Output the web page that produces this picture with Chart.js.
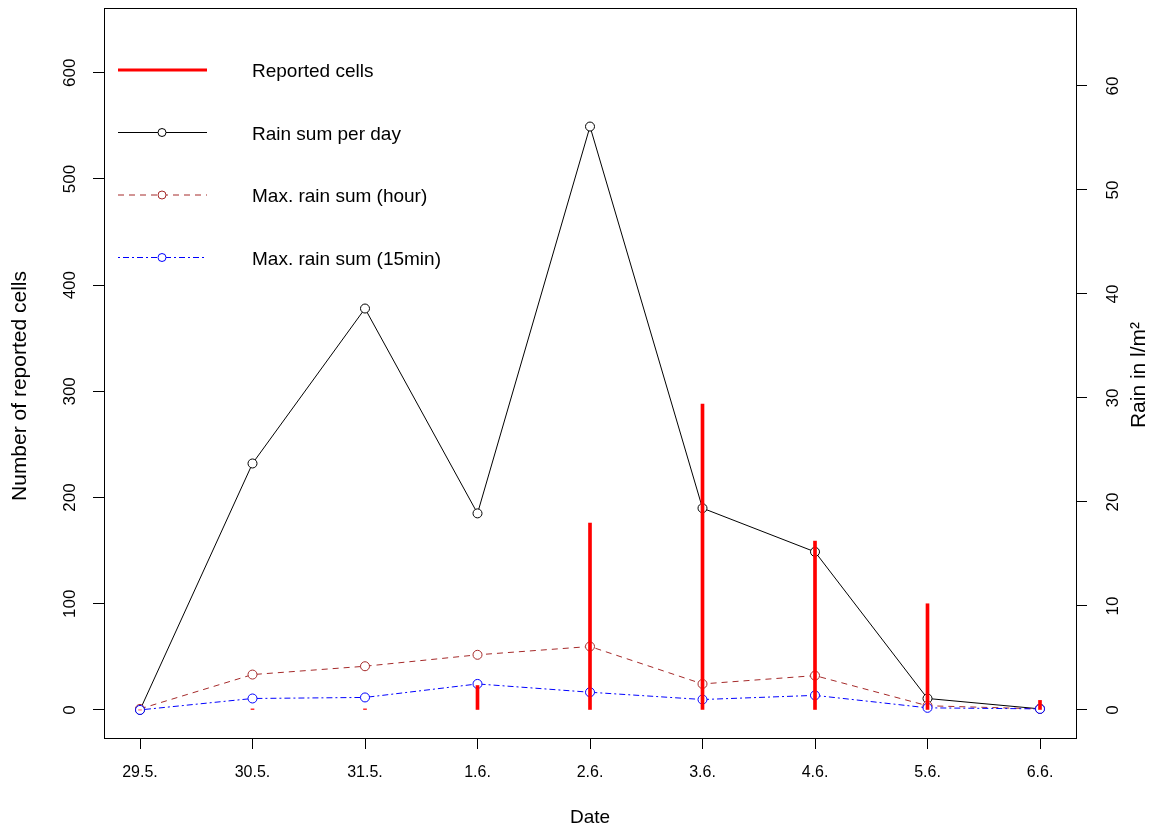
<!DOCTYPE html>
<html>
<head>
<meta charset="utf-8">
<script src="https://cdn.jsdelivr.net/npm/chart.js@4"></script>
<style>
  body { margin: 0; background: #fff; }
  #wrap { width: 1158px; height: 833px; }
</style>
</head>
<body>
<div id="wrap"><canvas id="chart1"></canvas></div>
<script>
const dates = ['29.5.', '30.5.', '31.5.', '1.6.', '2.6.', '3.6.', '4.6.', '5.6.', '6.6.'];
const reportedCells = [0, 1, 1, 23, 176, 288, 159, 100, 9];
const rainDay = [0, 23.7, 38.6, 18.9, 56.1, 19.4, 15.2, 1.1, 0.1];
const rainHour = [0.1, 3.4, 4.2, 5.3, 6.1, 2.5, 3.3, 0.4, 0.1];
const rain15 = [0, 1.1, 1.2, 2.5, 1.7, 1.0, 1.4, 0.2, 0.1];
const cellTicks = [0, 100, 200, 300, 400, 500, 600];
const rainTicks = [0, 10, 20, 30, 40, 50, 60];

const FONT = "'Liberation Sans', Arial, sans-serif";

function toPoints(arr) {
  return arr.map((v, i) => ({ x: i + 1, y: v }));
}

const legendRows = [
  { label: 'Reported cells', color: '#ff0000', width: 3, dash: [], marker: false },
  { label: 'Rain sum per day', color: '#000000', width: 1, dash: [], marker: true },
  { label: 'Max. rain sum (hour)', color: '#A52A2A', width: 1, dash: [6, 5], marker: true },
  { label: 'Max. rain sum (15min)', color: '#0000ff', width: 1, dash: [2, 3, 6, 3], marker: true }
];

// box, rotated y labels and legend like R base graphics
const rPlot = {
  id: 'rPlot',
  afterDraw(chart) {
    const c = chart.ctx;
    const a = chart.chartArea;
    const yl = chart.scales.y;
    const yr = chart.scales.y1;
    c.save();
    c.strokeStyle = '#000';
    c.lineWidth = 1;
    c.strokeRect(Math.round(a.left) + 0.5, Math.round(a.top) + 0.5,
      Math.round(a.right - a.left), Math.round(a.bottom - a.top));

    c.fillStyle = '#000';
    c.textAlign = 'center';
    c.textBaseline = 'middle';
    c.font = '17px ' + FONT;
    cellTicks.forEach(v => {
      c.save();
      c.translate(70, yl.getPixelForValue(v));
      c.rotate(-Math.PI / 2);
      c.fillText(String(v), 0, 0);
      c.restore();
    });
    rainTicks.forEach(v => {
      c.save();
      c.translate(1113, yr.getPixelForValue(v));
      c.rotate(-Math.PI / 2);
      c.fillText(String(v), 0, 0);
      c.restore();
    });

    c.font = '21px ' + FONT;
    c.save();
    c.translate(20, 386);
    c.rotate(-Math.PI / 2);
    c.fillText('Number of reported cells', 0, 0);
    c.restore();
    c.save();
    c.translate(1139, 375);
    c.rotate(-Math.PI / 2);
    c.fillText('Rain in l/m²', 0, 0);
    c.restore();

    // legend
    c.textAlign = 'left';
    c.font = '19px ' + FONT;
    legendRows.forEach((r, i) => {
      const y = 70 + i * 62.5;
      c.strokeStyle = r.color;
      c.lineWidth = r.width;
      c.setLineDash(r.dash);
      c.beginPath();
      c.moveTo(118, y);
      c.lineTo(207, y);
      c.stroke();
      c.setLineDash([]);
      if (r.marker) {
        c.fillStyle = '#fff';
        c.beginPath();
        c.arc(162, y, 4, 0, Math.PI * 2);
        c.fill();
        c.stroke();
      }
      c.fillStyle = '#000';
      c.fillText(r.label, 252, y + 2);
    });
    c.restore();
  }
};

function lineSet(label, data, color, dash, order) {
  return {
    type: 'line',
    label: label,
    data: toPoints(data),
    yAxisID: 'y1',
    borderColor: color,
    borderWidth: 1,
    borderDash: dash,
    pointRadius: 4.5,
    pointBorderWidth: 1,
    pointBorderColor: color,
    pointBackgroundColor: '#fff',
    tension: 0,
    order: order
  };
}

const ctx1 = document.getElementById('chart1');

new Chart(ctx1, {
  type: 'line',
  data: {
    datasets: [
      {
        type: 'bar',
        label: 'Reported cells',
        data: toPoints(reportedCells),
        yAxisID: 'y',
        backgroundColor: '#ff0000',
        barThickness: 3,
        order: 0
      },
      lineSet('Max. rain sum (15min)', rain15, '#0000ff', [2, 3, 6, 3], 1),
      lineSet('Max. rain sum (hour)', rainHour, '#A52A2A', [6, 5], 2),
      lineSet('Rain sum per day', rainDay, '#000000', [], 3)
    ]
  },
  options: {
    responsive: true,
    maintainAspectRatio: false,
    animation: false,
    layout: { padding: { top: 8, left: 0, right: 0, bottom: 0 } },
    plugins: {
      legend: { display: false },
      tooltip: { enabled: false }
    },
    scales: {
      x: {
        type: 'linear',
        offset: false,
        min: 0.68,
        max: 9.32,
        afterBuildTicks: s => { s.ticks = dates.map((d, i) => ({ value: i + 1 })); },
        afterFit: s => { s.height = 95; },
        ticks: {
          callback: v => dates[v - 1],
          color: '#000',
          font: { family: FONT, size: 16 },
          padding: 14,
          maxRotation: 0,
          autoSkip: false
        },
        grid: { offset: false, drawOnChartArea: false, tickLength: 11, color: '#000' },
        border: { display: false },
        title: {
          display: true,
          text: 'Date',
          color: '#000',
          font: { family: FONT, size: 19 },
          padding: { top: 0, bottom: 4 }
        }
      },
      y: {
        position: 'left',
        min: -26.4,
        max: 661,
        afterBuildTicks: s => { s.ticks = cellTicks.map(v => ({ value: v })); },
        afterFit: s => { s.width = 104; },
        ticks: { display: false },
        grid: { drawOnChartArea: false, tickLength: 11, color: '#000' },
        border: { display: false }
      },
      y1: {
        position: 'right',
        min: -2.7,
        max: 67.5,
        afterBuildTicks: s => { s.ticks = rainTicks.map(v => ({ value: v })); },
        afterFit: s => { s.width = 82; },
        ticks: { display: false },
        grid: { drawOnChartArea: false, tickLength: 11, color: '#000' },
        border: { display: false }
      }
    }
  },
  plugins: [rPlot]
});
</script>
</body>
</html>
